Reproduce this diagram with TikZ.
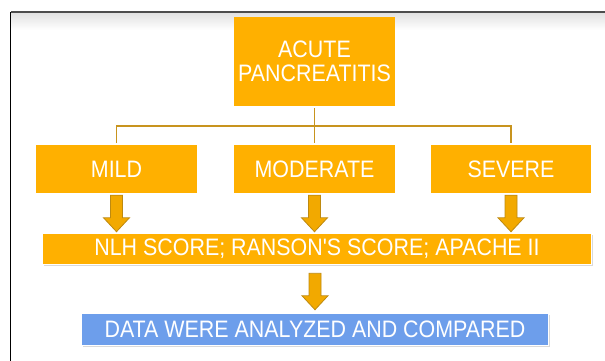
\documentclass[tikz,border=0pt]{standalone}
\usepackage{fontspec}
\newfontfamily\boxfont{Liberation Sans}[FakeStretch=0.9]
\usetikzlibrary{calc,shadows}

\definecolor{boxorange}{HTML}{FFB000}
\definecolor{boxblue}{HTML}{6D9EEB}
\definecolor{linkgold}{HTML}{C8941E}
\definecolor{arrowfill}{HTML}{F2A900}
\definecolor{arrowedge}{HTML}{BE8A10}

\tikzset{
  stage/.style={fill=boxorange, text=white, inner sep=0pt, align=center,
    font=\boxfont\fontsize{23.8}{24}\selectfont},
  band/.style={stage, draw=white, line width=1.5pt,
    drop shadow={shadow xshift=1pt, shadow yshift=-1.5pt, opacity=0.3}},
  link/.style={draw=linkgold, line width=1.6pt},
  blockarrow/.style={fill=arrowfill, draw=arrowedge, line width=0.8pt, line join=miter}
}

% fat down arrow from #1 to #2
\newcommand{\fatarrow}[2]{%
  \path[blockarrow] let \p1=#1, \p2=#2 in
    (\x1-6pt,\y1) -- (\x1+6pt,\y1) -- (\x1+6pt,\y2+14pt) -- (\x1+13pt,\y2+14pt)
    -- (\x1,\y2) -- (\x1-13pt,\y2+14pt) -- (\x1-6pt,\y2+14pt) -- cycle;}

\begin{document}
\begin{tikzpicture}[x=1pt,y=-1pt]
      \useasboundingbox (0,0) rectangle (605,361);
      % page frame
      \shade[top color=black!12, bottom color=white] (11,12.5) rectangle (605,30);
      \draw[black!70, line width=1.2pt] (605,12) -- (10.5,12);
      \draw[black, line width=0.8pt] (10.5,12) -- (10.5,361);

      \node[stage, minimum width=161pt, minimum height=89pt] (acute) at (314.5,61.5) {ACUTE\\PANCREATITIS};
      \node[stage, minimum width=161pt, minimum height=48pt] (mild) at (116.5,169) {MILD};
      \node[stage, minimum width=161pt, minimum height=48pt] (moderate) at (314.5,169) {MODERATE};
      \node[stage, minimum width=160pt, minimum height=48pt] (severe) at (511,169) {SEVERE};
      \node[band, minimum width=549pt, minimum height=31pt] (score) at (317,249) {NLH SCORE; RANSON'S SCORE; APACHE II};
      \node[band, fill=boxblue, minimum width=467pt, minimum height=32pt] (data) at (315,329.5) {DATA WERE ANALYZED AND COMPARED};

      % tree links
      \coordinate (fork) at (314.5,126);
      \draw[link] ([yshift=-2pt]acute.south) -- (fork);
      \draw[link] ([yshift=2pt]mild.north) |- (fork) -| ([yshift=2pt]severe.north);
      \draw[link] (fork) -- ([yshift=2pt]moderate.north);

      % arrows
      \fatarrow{([yshift=-2pt]mild.south)}{([yshift=1pt]score.north -| mild.south)}
      \fatarrow{([yshift=-2pt]moderate.south)}{([yshift=1pt]score.north -| moderate.south)}
      \fatarrow{([yshift=-2pt]severe.south)}{([yshift=1pt]score.north -| severe.south)}
      \fatarrow{([yshift=-8pt]score.south -| data.north)}{([yshift=3pt]data.north)}
\end{tikzpicture}
\end{document}
